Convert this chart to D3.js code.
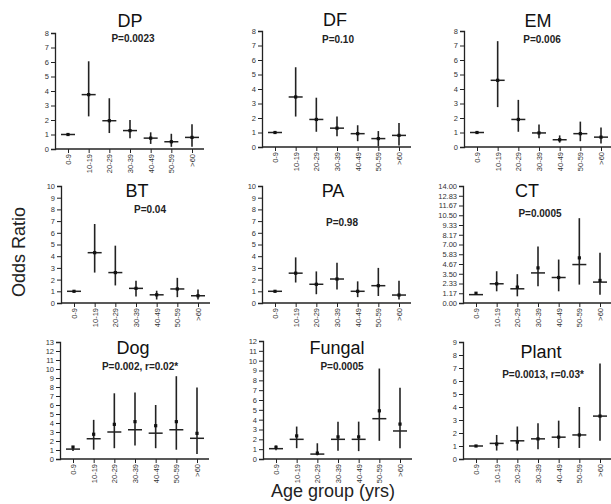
<!DOCTYPE html>
<html><head><meta charset="utf-8">
<script src="https://cdn.jsdelivr.net/npm/d3@7"></script>
<style>
body{margin:0;background:#fff;}
svg{display:block;font-family:Arial,"Liberation Sans",sans-serif;}
</style></head>
<body><svg id="c" width="611" height="504"></svg>
<script>
const categories = ["0-9","10-19","20-29","30-39","40-49","50-59",">60"];
const titles = ["DP","DF","EM","BT","PA","CT","Dog","Fungal","Plant"];
const pLabels = ["P=0.0023","P=0.10","P=0.006","P=0.04","P=0.98","P=0.0005","P=0.002, r=0.02*","P=0.0005","P=0.0013, r=0.03*"];
const yMax = [8,8,8,10,10,14,13,12,9];
// horizontal bar value (odds ratio estimate)
const est = [
  [1,3.75,1.95,1.27,0.75,0.5,0.8],
  [1,3.45,1.9,1.3,0.92,0.58,0.8],
  [1,4.6,1.9,0.97,0.5,0.92,0.68],
  [1,4.3,2.6,1.25,0.7,1.2,0.62],
  [1,2.55,1.6,2.05,1.0,1.48,0.68],
  [1,2.3,1.7,3.6,3.05,4.6,2.5],
  [1.1,2.25,3.0,3.25,2.87,3.25,2.3],
  [1.05,2.0,0.5,2.0,2.0,4.1,2.85],
  [1,1.2,1.4,1.55,1.68,1.85,3.3]
];
// dot marker value
const dot = [
  [1,3.75,1.95,1.27,0.75,0.5,0.8],
  [1,3.45,1.9,1.3,0.92,0.58,0.8],
  [1,4.6,1.9,0.97,0.5,0.92,0.68],
  [1,4.3,2.6,1.25,0.7,1.2,0.62],
  [1,2.55,1.6,2.05,1.0,1.48,0.68],
  [1.17,2.3,1.9,4.2,3.05,5.4,2.7],
  [1.33,2.75,3.85,4.15,3.7,4.15,2.85],
  [1.2,2.35,0.6,2.25,2.25,4.9,3.55],
  [1,1.15,1.3,1.55,1.68,1.85,3.3]
];
const lo = [
  [0.95,2.25,1.1,0.75,0.35,0.15,0.15],
  [0.95,2.1,1.05,0.75,0.4,0.05,0.1],
  [0.95,2.75,1.05,0.6,0.3,0.4,0.25],
  [0.95,2.6,1.5,0.55,0.3,0.5,0.3],
  [0.95,1.75,0.75,1.15,0.5,0.6,0.3],
  [1.0,1.4,0.8,2.0,1.4,2.2,1.0],
  [0.9,1.03,1.2,1.5,1.2,1.03,0.55],
  [0.88,1.1,0.37,0.85,0.8,1.85,1.1],
  [0.95,0.65,0.65,0.75,0.85,0.85,1.4]
];
const hi = [
  [1.05,6.05,3.5,2.0,1.15,1.05,1.7],
  [1.05,5.5,3.4,2.1,1.5,1.1,1.65],
  [1.05,7.3,3.25,1.55,0.8,1.75,1.35],
  [1.05,6.75,4.9,1.9,1.05,2.15,1.15],
  [1.05,3.9,2.7,3.45,1.85,3.0,1.9],
  [1.3,3.8,3.45,6.75,5.2,10.15,6.0],
  [1.4,4.35,7.3,7.4,6.0,9.2,7.95],
  [1.38,3.3,1.6,3.8,3.8,9.2,7.25],
  [1.05,1.85,2.5,2.75,2.95,4.0,7.35]
];

// layout (positions only)
const layout = [
  {ax:55, y0:149, yt:33, tx:130, ty:27, px:133, py:42},
  {ax:262,y0:147, yt:31, tx:335, ty:26, px:338, py:43},
  {ax:464,y0:147, yt:31, tx:538, ty:27, px:542, py:43},
  {ax:61, y0:303, yt:186,tx:137, ty:197,px:150, py:213},
  {ax:262,y0:303, yt:186,tx:333, ty:197,px:342, py:226},
  {ax:463,y0:303, yt:186,tx:527, ty:197,px:540, py:217},
  {ax:60, y0:459, yt:342,tx:133, ty:354,px:140, py:370},
  {ax:263,y0:459, yt:341,tx:337, ty:354,px:342, py:370},
  {ax:463,y0:459, yt:342,tx:541, ty:358,px:543, py:378}
];

const svg = d3.select("#c");
const ink = "#222";

titles.forEach((t,i)=>{
  const L = layout[i];
  const g = svg.append("g");
  const x = d3.scalePoint().domain(categories).range([L.ax+13, L.ax+137]);
  const y = d3.scaleLinear().domain([0,yMax[i]]).range([L.y0, L.yt]);
  const tv = i===5 ? d3.range(13).map(k=>k*14/12) : d3.range(yMax[i]+1);
  const yAxis = d3.axisLeft(y).tickValues(tv).tickSize(4).tickPadding(2)
      .tickFormat(i===5 ? d3.format(".2f") : d3.format("d"));
  const ga = g.append("g").attr("transform",`translate(${L.ax},0)`).call(yAxis);
  ga.select(".domain").attr("stroke",ink).attr("stroke-width",1.3);
  ga.selectAll(".tick line").attr("stroke",ink).attr("stroke-width",1);
  ga.selectAll(".tick text").attr("font-size",7.5).attr("fill","#333")
    .attr("font-family","Arial,'Liberation Sans',sans-serif");
  const xEnd = Math.min(L.ax+149, 611);
  const xa = d3.axisBottom(x).tickSize(4).tickPadding(3);
  const gx = g.append("g").attr("transform",`translate(0,${L.y0})`).call(xa);
  gx.select(".domain").attr("d",`M${L.ax},0H${xEnd}`).attr("stroke",ink).attr("stroke-width",1.3);
  gx.selectAll(".tick line").attr("stroke",ink).attr("stroke-width",1);
  gx.selectAll(".tick text").attr("font-size",7.5).attr("fill","#333")
    .attr("font-family","Arial,'Liberation Sans',sans-serif")
    .attr("text-anchor","end").attr("dy","0.32em")
    .attr("transform","translate(0,5) rotate(-90)").attr("y",0).attr("x",0);

  const rows = categories.map((c,k)=>({c, e:est[i][k], d:dot[i][k], l:lo[i][k], h:hi[i][k]}));
  g.selectAll(".ci").data(rows).enter().append("line")
    .attr("x1",d=>x(d.c)).attr("x2",d=>x(d.c))
    .attr("y1",d=>y(d.l)).attr("y2",d=>y(d.h))
    .attr("stroke",ink).attr("stroke-width",1.6);
  g.selectAll(".est").data(rows).enter().append("line")
    .attr("x1",d=>x(d.c)-7).attr("x2",d=>x(d.c)+7)
    .attr("y1",d=>y(d.e)).attr("y2",d=>y(d.e))
    .attr("stroke",ink).attr("stroke-width",1.5);
  g.selectAll(".dot").data(rows).enter().append("rect")
    .attr("x",d=>x(d.c)-1.6).attr("y",d=>y(d.d)-1.6)
    .attr("width",3.2).attr("height",3.2).attr("fill","#111");

  svg.append("text").attr("x",L.tx).attr("y",L.ty).attr("text-anchor","middle")
    .attr("font-size",18).attr("fill","#111").text(t);
  svg.append("text").attr("x",L.px).attr("y",L.py).attr("text-anchor","middle")
    .attr("font-size",10).attr("font-weight","bold").attr("fill","#222").text(pLabels[i]);
});

svg.append("text").attr("transform","translate(25,252) rotate(-90)")
  .attr("text-anchor","middle").attr("font-size",18).attr("fill","#222").text("Odds Ratio");
svg.append("text").attr("x",333).attr("y",497).attr("text-anchor","middle")
  .attr("font-size",18).attr("fill","#222").text("Age group (yrs)");
</script></body></html>
